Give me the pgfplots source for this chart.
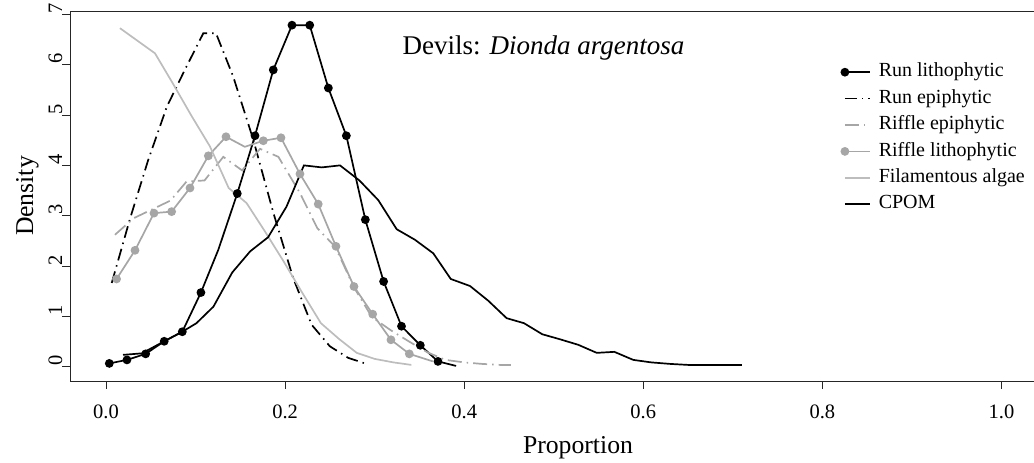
\documentclass[border=0pt]{standalone}
\usepackage{fontspec}
\setmainfont{Liberation Serif}
\usepackage{pgfplots}
\pgfplotsset{compat=1.18}
\definecolor{riff}{HTML}{A6A6A6}
\definecolor{alg}{HTML}{BDBDBD}
\begin{document}
\begin{tikzpicture}[x=1pt,y=1pt]
\path[use as bounding box] (0,0) rectangle (1034,463);
\begin{axis}[
  at={(70pt,82pt)}, anchor=south west,
  scale only axis, width=964pt, height=370pt,
  xmin=-0.0402, xmax=1.0363, ymin=-0.29, ymax=7.072,
  axis lines=left, axis line style={-, line width=0.8pt, black!85},
  tick align=outside, major tick length=8pt,
  tick style={line width=0.8pt, black!85},
  xtick={0,0.2,0.4,0.6,0.8,1}, xticklabels={0.0,0.2,0.4,0.6,0.8,1.0},
  ytick={0,1,2,3,4,5,6,7}, yticklabels={0,1,2,3,4,5,6,7},
  tick label style={font=\fontsize{20.5}{23}\selectfont},
  xticklabel style={anchor=base, yshift=-30pt},
  yticklabel style={rotate=90, anchor=base, xshift=6pt},
  clip=false,
  every axis plot/.append style={line width=1.7pt},
  legend image code/.code={\draw[#1, mark indices={1}] plot coordinates {(0pt,0pt) (25pt,0pt)};},
  legend style={draw=none, fill=none, inner sep=0pt, row sep=8pt, column sep=8pt,
    at={(axis description cs:0.8,0.860)}, anchor=north west,
    font=\fontsize{20}{24}\selectfont,
    nodes={inner sep=0pt, text height=14pt, text depth=4.4pt}},
  legend cell align=left,
]
% Run lithophytic
\addplot[black, mark=*, mark size=3.5pt, mark indices={1,2,3,4,5,6,8,9,10,11,12,13,14,15,16,17,18,19}] coordinates {
 (0.0037,0.06) (0.0234,0.13) (0.0443,0.25) (0.065,0.50) (0.0852,0.69) (0.106,1.47)
 (0.1254,2.32) (0.1466,3.44) (0.1664,4.59) (0.1868,5.90) (0.2077,6.79) (0.2275,6.79)
 (0.2483,5.54) (0.2684,4.59) (0.2896,2.92) (0.310,1.69) (0.330,0.80) (0.351,0.42)
 (0.3707,0.10) (0.391,0.01)
};
\addlegendentry{Run lithophytic}
% Run epiphytic
\addplot[black, dash pattern=on 12pt off 5pt on 1.5pt off 5pt] coordinates {
 (0.0064,1.66) (0.027,2.95) (0.047,4.10) (0.068,5.17) (0.088,5.90) (0.1087,6.63)
 (0.1228,6.63) (0.142,5.77) (0.1645,4.51) (0.187,3.05) (0.209,1.76) (0.2296,0.83)
 (0.250,0.40) (0.2705,0.17) (0.291,0.05)
};
\addlegendentry{Run epiphytic}
% Riffle epiphytic
\addplot[riff, dash pattern=on 14pt off 5pt on 1.5pt off 5pt] coordinates {
 (0.010,2.62) (0.031,2.95) (0.051,3.12) (0.072,3.30) (0.090,3.68) (0.110,3.70)
 (0.131,4.17) (0.152,3.90) (0.172,4.33) (0.1925,4.17) (0.2166,3.45) (0.236,2.75)
 (0.256,2.38) (0.277,1.57) (0.297,0.98) (0.318,0.72) (0.338,0.50) (0.359,0.28)
 (0.379,0.13) (0.400,0.08) (0.420,0.05) (0.440,0.03) (0.452,0.03)
};
\addlegendentry{Riffle epiphytic}
% Riffle lithophytic
\addplot[riff, mark=*, mark size=3.5pt, mark indices={1,2,3,4,5,6,7,9,10,11,12,13,14,15,16,17}] coordinates {
 (0.0118,1.74) (0.0324,2.31) (0.0536,3.05) (0.0733,3.08) (0.0938,3.55) (0.1143,4.19)
 (0.134,4.57) (0.155,4.37) (0.1757,4.49) (0.1954,4.55) (0.2166,3.83) (0.237,3.23)
 (0.2568,2.39) (0.2769,1.59) (0.2978,1.04) (0.3182,0.53) (0.3387,0.25) (0.365,0.10)
};
\addlegendentry{Riffle lithophytic}
% Filamentous algae
\addplot[alg] coordinates {
 (0.0156,6.73) (0.0547,6.23) (0.075,5.62) (0.095,5.00) (0.116,4.38) (0.137,3.55)
 (0.157,3.25) (0.177,2.70) (0.198,2.10) (0.218,1.50) (0.240,0.86) (0.260,0.55)
 (0.280,0.27) (0.300,0.15) (0.321,0.08) (0.341,0.03)
};
\addlegendentry{Filamentous algae}
% CPOM
\addplot[black] coordinates {
 (0.019,0.23) (0.040,0.26) (0.065,0.50) (0.0852,0.69) (0.101,0.86) (0.120,1.19)
 (0.141,1.87) (0.161,2.29) (0.181,2.57) (0.2016,3.18) (0.221,4.00) (0.241,3.96)
 (0.2613,4.00) (0.283,3.70) (0.304,3.31) (0.3246,2.73) (0.345,2.52) (0.3655,2.25)
 (0.385,1.74) (0.4065,1.60) (0.4267,1.31) (0.4474,0.96) (0.4668,0.86) (0.4872,0.64)
 (0.507,0.54) (0.5274,0.43) (0.548,0.27) (0.5677,0.29) (0.5888,0.13) (0.609,0.08)
 (0.630,0.05) (0.650,0.03) (0.670,0.03) (0.690,0.03) (0.710,0.03)
};
\addlegendentry{CPOM}
\draw[line width=0.8pt, black!85] (rel axis cs:0,1) -- (rel axis cs:1,1);
\end{axis}
\node[rotate=90, anchor=base, font=\fontsize{25.7}{30}\selectfont] at (33,267) {Density};
\node[anchor=base, font=\fontsize{25.7}{30}\selectfont] at (578,9) {Proportion};
\node[anchor=base west, font=\fontsize{27}{32}\selectfont] at (399,408) {Devils: \textit{Dionda argentosa}};
\end{tikzpicture}
\end{document}
